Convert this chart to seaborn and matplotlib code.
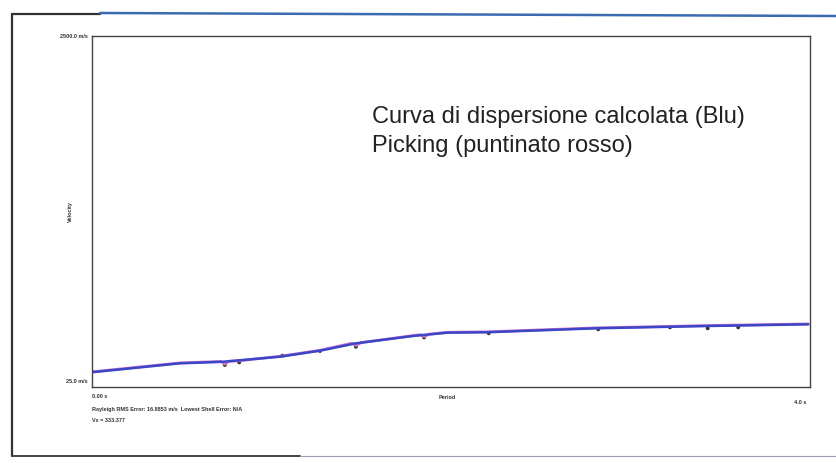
import matplotlib
matplotlib.use("Agg")
import matplotlib.pyplot as plt
from matplotlib.lines import Line2D
import seaborn as sns
import pandas as pd

# Calculated dispersion curve (blue)
period_curve = [0.00, 0.49, 0.73, 1.05, 1.27, 1.47, 1.79, 1.98, 2.20, 2.81, 3.42, 3.99]
vel_curve = [129, 192, 203, 239, 281, 333, 385, 408, 411, 439, 455, 467]

# Picking (red dotted) - follows the curve, dipping at picked points
period_pick = [0.00, 0.49, 0.72, 0.74, 0.76, 0.82, 1.05, 1.27, 1.45, 1.47, 1.50, 1.79, 1.83, 1.85, 1.88, 1.98, 2.20, 2.81, 3.42, 3.99]
vel_pick = [132, 195, 205, 185, 206, 210, 242, 284, 334, 318, 338, 388, 394, 380, 398, 411, 414, 442, 458, 470]
period_dots = [0.74, 0.82, 1.06, 1.27, 1.47, 1.85, 2.21, 2.82, 3.22, 3.43, 3.60]
vel_dots = [180, 199, 246, 279, 309, 375, 404, 432, 446, 439, 446]

y_top_label = "2500.0 m/s"
y_bot_label = "25.0 m/s"
x_left_label = "0.00 s"
x_right_label = "4.0 s"
annotation = ["Curva di dispersione calcolata (Blu)", "Picking (puntinato rosso)"]
footer = ["Rayleigh RMS Error: 16.8853 m/s  Lowest Shell Error: N/A", "Vs = 333.377"]

sns.set_style("white")
plt.rcParams['font.family'] = ['Liberation Sans', 'DejaVu Sans']

fig = plt.figure(figsize=(8.36, 4.63), dpi=100)
ax = fig.add_axes([92/836, 1-387/463, (810-92)/836, (387-36)/463])

df_c = pd.DataFrame({"Period": period_curve, "Velocity": vel_curve})
df_p = pd.DataFrame({"Period": period_pick, "Velocity": vel_pick})
df_d = pd.DataFrame({"Period": period_dots, "Velocity": vel_dots})

sns.lineplot(data=df_p, x="Period", y="Velocity", ax=ax, color="#d070c8", lw=2.0, sort=False)
sns.lineplot(data=df_c, x="Period", y="Velocity", ax=ax, color="#3a46c8", lw=1.8)
sns.scatterplot(data=df_d, x="Period", y="Velocity", ax=ax, color="#333333", s=8, edgecolor="none")

ax.set_xlim(0, 4.0)
ax.set_ylim(25, 2500)
ax.set_xticks([])
ax.set_yticks([])
ax.set_xlabel("")
ax.set_ylabel("")
for s in ax.spines.values():
    s.set_color("#444444")
    s.set_linewidth(1.0)

# axis end labels
ax.text(-0.006, 1.0, y_top_label, transform=ax.transAxes, ha="right", va="center",
        fontsize=4, fontweight="bold", color="#333333")
ax.text(-0.006, 0.017, y_bot_label, transform=ax.transAxes, ha="right", va="center",
        fontsize=4, fontweight="bold", color="#333333")
ax.text(-0.03, 0.5, "Velocity", transform=ax.transAxes, ha="center", va="center",
        rotation=90, fontsize=4, fontweight="bold", color="#333333")
ax.text(0.0, -0.028, x_left_label, transform=ax.transAxes, ha="left", va="center",
        fontsize=4, fontweight="bold", color="#333333")
ax.text(0.495, -0.03, "Period", transform=ax.transAxes, ha="center", va="center",
        fontsize=4, fontweight="bold", color="#333333")
ax.text(0.995, -0.045, x_right_label, transform=ax.transAxes, ha="right", va="center",
        fontsize=4, fontweight="bold", color="#333333")

# annotation
fig.text(372/836, 1-117/463, annotation[0], ha="left", va="center", fontsize=17, color="#222222")
fig.text(372/836, 1-146/463, annotation[1], ha="left", va="center", fontsize=17, color="#222222")

# footer
fig.text(92/836, 1-409/463, footer[0], ha="left", va="center", fontsize=4, fontweight="bold", color="#333333")
fig.text(92/836, 1-420/463, footer[1], ha="left", va="center", fontsize=4, fontweight="bold", color="#333333")

# scanned page frame
fig.add_artist(Line2D([12/836, 100/836], [1-14/463, 1-14/463], color="#333333", lw=1.6))
fig.add_artist(Line2D([100/836, 1.0], [1-13/463, 1-16/463], color="#3a6ab0", lw=1.8))
fig.add_artist(Line2D([12/836, 12/836], [1-14/463, 1-456/463], color="#333333", lw=1.6))
fig.add_artist(Line2D([12/836, 300/836], [1-456/463, 1-456/463], color="#444444", lw=1.4))
fig.add_artist(Line2D([300/836, 1.0], [1-456/463, 1-456/463], color="#9aa0b0", lw=0.8))

fig.savefig("out.png", dpi=100)
